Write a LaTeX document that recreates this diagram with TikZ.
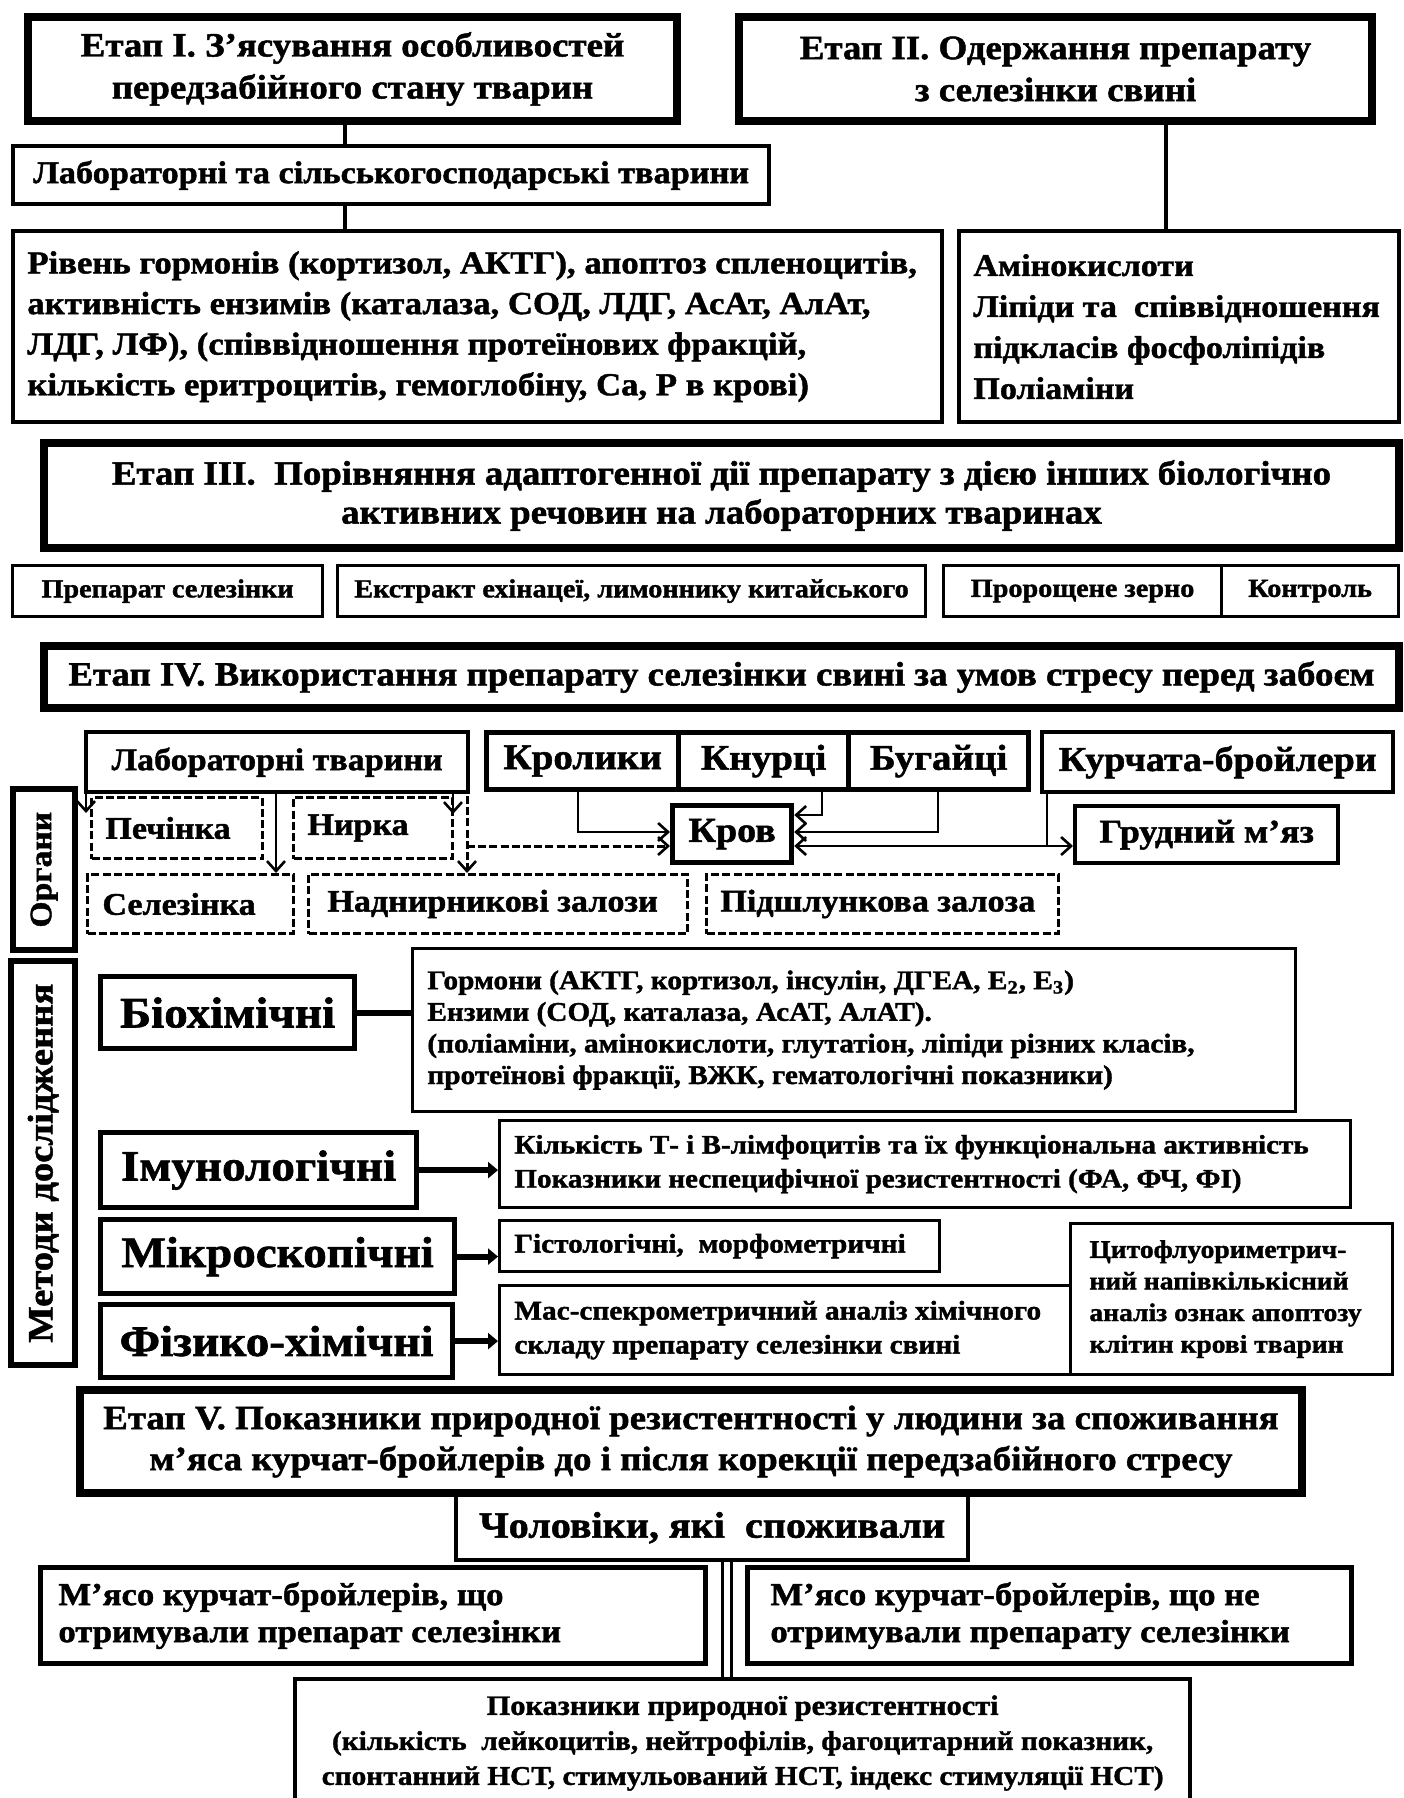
\documentclass[tikz,border=0pt]{standalone}
\usepackage{fontspec}
\setmainfont{Liberation Serif}[BoldFeatures={FakeStretch=1.085,FakeBold=1.4}]
\usetikzlibrary{arrows.meta,calc}
\newcommand\F[2]{\fontsize{#1pt}{#2pt}\selectfont\bfseries}
\newcommand\bx[7][]{\node[anchor=north west, inner sep=0pt, draw, align=center, minimum width={(#5-#3)*0.5pt}, minimum height={(#6-#4)*0.5pt}, #1] (#2) at (#3,#4) {#7};}
\newcommand\lt[5][]{\node[anchor=west, inner sep=0pt, align=left, #1] (#2) at ($(#3.west)+(#4,0)$) {#5};}
\begin{document}
\begin{tikzpicture}[x=0.5pt,y=-0.5pt,
  thk/.style={line width=4pt},
  med/.style={line width=2.2pt},
  thn/.style={line width=1.6pt},
  dsh/.style={line width=1.5pt, dash pattern=on 4pt off 1.6pt},
  arr/.style={line width=1.3pt, -{Straight Barb[length=5pt,width=9pt,line width=1.3pt]}},
  harr/.style={line width=3pt, -{Triangle[length=5pt,width=8pt]}},
  conn/.style={line width=2pt}]
\useasboundingbox (0,0) rectangle (1403,1798);
\clip (0,0) rectangle (1403,1798);
\fill[white] (0,0) rectangle (1403,1798);

% Stage I & II
\bx[thk,font=\F{17}{21}]{e1}{24}{13}{673}{117}{Етап I. З'ясування особливостей\\передзабійного стану тварин}
\bx[thk,font=\F{17}{21}]{e2}{735}{13}{1368}{117}{Етап II. Одержання препарату\\з селезінки свині}
\bx[med,font=\F{15.8}{20}]{lab}{11}{144}{767}{202}{Лабораторні та сільськогосподарські тварини}
\bx[med]{big}{11}{229}{940}{420}{}
\lt[font=\F{16}{20.3}]{bigt}{big}{16}{Рівень гормонів (кортизол, АКТГ), апоптоз спленоцитів,\\активність ензимів (каталаза, СОД, ЛДГ, АсАт, АлАт,\\ЛДГ, ЛФ), (співвідношення протеїнових фракцій,\\кількість еритроцитів, гемоглобіну, Са, Р в крові)}
\bx[med]{amino}{957}{229}{1397}{420}{}
\lt[font=\F{15.7}{20.5}]{aminot}{amino}{16}{Амінокислоти\\Ліпіди та~ співвідношення\\підкласів фосфоліпідів\\Поліаміни}
\coordinate (cx1) at (345,0);
\coordinate (cx2) at (1166,0);
\draw[conn] (cx1 |- e1.south) -- (cx1 |- lab.north);
\draw[conn] (cx1 |- lab.south) -- (cx1 |- big.north);
\draw[conn] (cx2 |- e2.south) -- (cx2 |- amino.north);

% Stage III
\bx[thk,font=\F{17}{19.5}]{e3}{40}{439}{1395}{544}{Етап III.~ Порівняння адаптогенної дії препарату з дією інших біологічно\\активних речовин на лабораторних тваринах}
\bx[thn,font=\F{13}{16}]{p1}{11}{564}{321}{615}{Препарат селезінки}
\bx[thn,font=\F{13}{16}]{p2}{336}{564}{924}{615}{Екстракт ехінацеї, лимоннику китайського}
\bx[thn,font=\F{13}{16}]{p3}{942}{564}{1220}{615}{Пророщене зерно}
\bx[thn,font=\F{13}{16}]{p4}{1220}{564}{1397}{615}{Контроль}

% Stage IV
\bx[thk,font=\F{17}{20}]{e4}{40}{642}{1395}{704}{Етап IV. Використання препарату селезінки свині за умов стресу перед забоєм}
\bx[med,font=\F{15.7}{19}]{labt}{84}{730}{466}{790}{Лабораторні тварини}
\bx[med,line width=2.6pt,font=\F{18}{20}]{krol}{484}{730}{676}{787}{Кролики}
\bx[med,line width=2.6pt,font=\F{18}{20}]{knur}{676}{730}{846}{787}{Кнурці}
\bx[med,line width=2.6pt,font=\F{18}{20}]{buh}{846}{730}{1026}{787}{Бугайці}
\bx[med,font=\F{17.5}{20}]{kurch}{1040}{730}{1391}{790}{Курчата-бройлери}
\bx[line width=3.2pt]{org}{10}{786}{72}{947}{}
\node[rotate=90,font=\F{15.5}{18}] (orgt) at (org.center) {Органи};
\bx[dsh]{pech}{90}{796}{261}{857}{}
\lt[font=\F{15.7}{19}]{pecht}{pech}{15}{Печінка}
\bx[dsh]{nyrk}{292}{796}{451}{857}{}
\lt[font=\F{15.7}{19}]{nyrkt}{nyrk}{15}{Нирка}
\bx[dsh]{sel}{86}{873}{292}{932}{}
\lt[font=\F{15.7}{19}]{selt}{sel}{16}{Селезінка}
\bx[dsh]{nadn}{307}{873}{686}{932}{}
\lt[font=\F{15.7}{19}]{nadnt}{nadn}{20}{Наднирникові залози}
\bx[dsh]{pidsh}{705}{873}{1057}{932}{}
\lt[font=\F{15.7}{19}]{pidsht}{pidsh}{15}{Підшлункова залоза}
\bx[line width=2.6pt,font=\F{17.5}{20}]{krov}{670}{803}{789}{860}{Кров}
\bx[med,font=\F{16.5}{20}]{grud}{1073}{804}{1336}{861}{Грудний м’яз}

\coordinate (ax1) at (86,0);
\coordinate (ax2) at (276,0);
\coordinate (ax3) at (453,0);
\coordinate (ax4) at (467,0);
\coordinate (kx1) at (578,0);
\coordinate (kx2) at (822,0);
\coordinate (kx3) at (938,0);
\coordinate (kx4) at (1047,0);
\coordinate (ky0) at (0,815);
\coordinate (ky1) at (0,832);
\coordinate (ky2) at (0,846);
\draw[arr] (ax1 |- labt.south) -- ($(ax1 |- pech.north)+(0,17)$);
\draw[arr] (ax2 |- labt.south) -- (ax2 |- sel.north);
\draw[arr] (ax3 |- labt.south) -- ($(ax3 |- nyrk.north)+(0,18)$);
\draw[arr,dsh] (ax4 |- nyrk.north) -- (ax4 |- nadn.north);
\draw[arr,dsh] (ax4 |- ky2) -- (krov.west |- ky2);
\draw[arr] (kx1 |- krol.south) |- (krov.west |- ky1);
\draw[arr] (kx2 |- knur.south) |- (krov.east |- ky0);
\draw[arr] (kx3 |- buh.south) |- (krov.east |- ky1);
\draw[line width=1.3pt, {Straight Barb[length=5pt,width=9pt,line width=1.3pt]}-{Straight Barb[length=5pt,width=9pt,line width=1.3pt]}] (krov.east |- ky2) -- (grud.west |- ky2);
\draw[line width=1.3pt] (kx4 |- kurch.south) -- (kx4 |- ky2);

% Methods
\bx[line width=3.2pt]{meth}{8}{958}{72}{1362}{}
\node[rotate=90,font=\F{17.8}{20}] (metht) at (meth.center) {Методи дослідження};
\bx[line width=2.6pt,font=\F{21.7}{24}]{bio}{98}{974}{352}{1046}{Біохімічні}
\bx[thn]{biot}{411}{947}{1294}{1110}{}
\lt[font=\F{13.5}{15.8}]{biott}{biot}{16}{Гормони (АКТГ, кортизол, інсулін, ДГЕА, Е\textsubscript{2}, Е\textsubscript{3})\\Ензими (СОД, каталаза, АсАТ, АлАТ).\\(поліаміни, амінокислоти, глутатіон, ліпіди різних класів,\\протеїнові фракції, ВЖК, гематологічні показники)}
\bx[line width=2.6pt,font=\F{21.7}{24}]{imu}{98}{1130}{414}{1205}{Імунологічні}
\bx[thn]{imut}{498}{1119}{1349}{1206}{}
\lt[font=\F{13.4}{17}]{imutt}{imut}{16}{Кількість Т- і В-лімфоцитів та їх функціональна активність\\Показники неспецифічної резистентності (ФА, ФЧ, ФІ)}
\bx[line width=2.6pt,font=\F{21.7}{24}]{mic}{98}{1217}{452}{1291}{Мікроскопічні}
\bx[thn]{mict}{498}{1219}{938}{1270}{}
\lt[font=\F{13.5}{17}]{mictt}{mict}{16}{Гістологічні,~ морфометричні}
\bx[line width=2.6pt,font=\F{21.7}{24}]{fiz}{98}{1302}{450}{1375}{Фізико-хімічні}
\bx[thn]{fizt}{498}{1284}{1069}{1373}{}
\lt[font=\F{13.5}{17}]{fiztt}{fizt}{16}{Мас-спекрометричний аналіз хімічного\\складу препарату селезінки свині}
\bx[thn]{cyto}{1069}{1222}{1391}{1373}{}
\lt[font=\F{12.7}{15.8}]{cytot}{cyto}{20}{Цитофлуориметрич-\\ний напівкількісний\\аналіз ознак апоптозу\\клітин крові тварин}
\draw[line width=3pt] (bio.east) -- (bio.east -| biot.west);
\draw[harr] (imu.east) -- (imu.east -| imut.west);
\draw[harr] (mic.east) -- (mic.east -| mict.west);
\draw[harr] (fiz.east) -- (fiz.east -| fizt.west);

% Stage V
\bx[thk,font=\F{17}{20.5}]{e5}{76}{1386}{1298}{1489}{Етап V. Показники природної резистентності у людини за споживання\\м’яса курчат-бройлерів до і після корекції передзабійного стресу}
\bx[med,font=\F{18.5}{21}]{chol}{454}{1493}{966}{1558}{Чоловіки, які~ споживали}
\bx[line width=2.6pt]{m1}{38}{1565}{703}{1661}{}
\lt[font=\F{16}{18.5}]{m1t}{m1}{20}{М’ясо курчат-бройлерів, що\\отримували препарат селезінки}
\bx[line width=2.6pt]{m2}{745}{1565}{1349}{1661}{}
\lt[font=\F{16}{18.5}]{m2t}{m2}{25}{М’ясо курчат-бройлерів, що не\\отримували препарату селезінки}
\bx[med]{bot}{293}{1677}{1188}{1840}{}
\node[anchor=north, inner sep=0pt, align=center, font=\F{14}{17.5}] (bott) at ($(bot.north)+(0,18)$) {Показники природної резистентності\\{\fontsize{13.5pt}{17.5pt}\selectfont(кількість~ лейкоцитів, нейтрофілів, фагоцитарний показник,}\\{\fontsize{13.5pt}{17.5pt}\selectfont спонтанний НСТ, стимульований НСТ, індекс стимуляції НСТ)}};
\coordinate (dx) at (727,0);
\draw[line width=1.3pt, double, double distance=3pt] (dx |- chol.south) -- (dx |- bot.north);
\end{tikzpicture}
\end{document}
